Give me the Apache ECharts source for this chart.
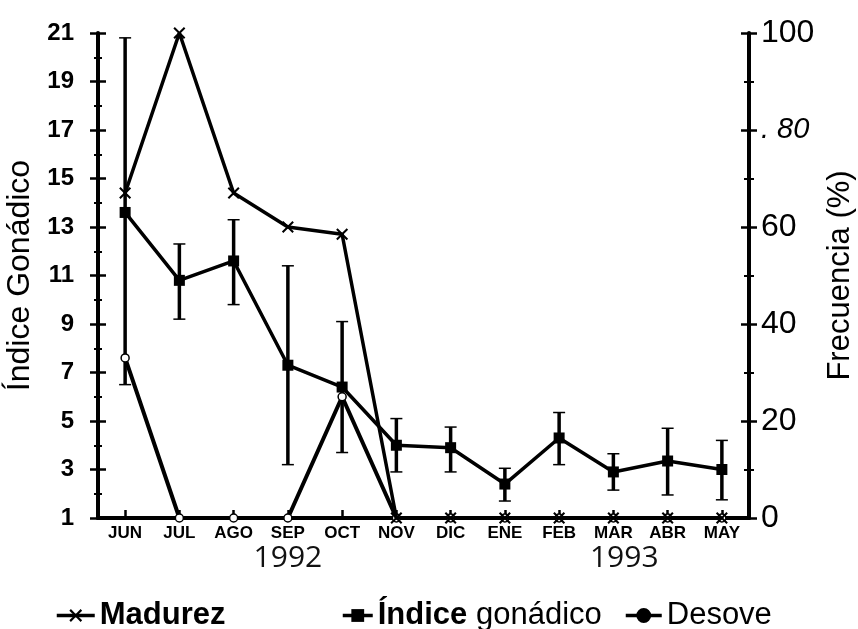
<!DOCTYPE html>
<html>
<head>
<meta charset="utf-8">
<script src="https://cdn.jsdelivr.net/npm/echarts@6/dist/echarts.min.js"></script>
<style>
html,body{margin:0;padding:0;background:#fff;}
#chart{width:858px;height:629px;}
</style>
</head>
<body>
<div id="chart"></div>
<script>
// ---- data ----
var months = ['JUN','JUL','AGO','SEP','OCT','NOV','DIC','ENE','FEB','MAR','ABR','MAY'];
var madurez = [67, 100, 67, 60, 58.5, 0, 0, 0, 0, 0, 0, 0];          // Frecuencia (%)
var desove  = [33, 0, 0, 0, 25, 0, 0, 0, 0, 0, 0, 0];               // Frecuencia (%)
var indiceGonadico = [13.6, 10.8, 11.6, 7.3, 6.4, 4.0, 3.9, 2.4, 4.3, 2.9, 3.35, 3.0];
var indiceLow  = [6.5, 9.2, 9.8, 3.2, 3.7, 2.9, 2.9, 1.7, 3.2, 2.15, 1.95, 1.75];
var indiceHigh = [20.8, 12.3, 13.3, 11.4, 9.1, 5.1, 4.75, 3.05, 5.35, 3.65, 4.7, 4.2];
var leftTicks = [1, 3, 5, 7, 9, 11, 13, 15, 17, 19, 21];
var rightTicks = [0, 20, 40, 60, 80, 100];
var years = [{label: '1992', from: 'SEP', to: 'SEP'}, {label: '1993', from: 'MAR', to: 'ABR'}];

var errData = months.map(function (m, i) { return [i, indiceLow[i], indiceHigh[i]]; });

var chart = echarts.init(document.getElementById('chart'));
var F = 'Liberation Sans, Arial, sans-serif';
var xMark = 'path://M0,1.2L1.2,0L5,3.8L8.8,0L10,1.2L6.2,5L10,8.8L8.8,10L5,6.2L1.2,10L0,8.8L3.8,5Z';

var option = {
  backgroundColor: '#fff',
  animation: false,
  grid: {left: 98, right: 109, top: 33, bottom: 111, containLabel: false, outerBoundsMode: 'none'},
  legend: [
    {left: 50, top: 595, itemWidth: 38, itemHeight: 16, itemGap: 0,
     lineStyle: {width: 3.5},
     data: ['Madurez'], textStyle: {fontFamily: F, fontSize: 31, fontWeight: 'bold', color: '#000'}},
    {left: 336, top: 595, itemWidth: 30, itemHeight: 16,
     lineStyle: {width: 3.5},
     data: ['Índice gonádico'],
     formatter: function () { return '{b|Índice} gonádico'; },
     textStyle: {fontFamily: F, fontSize: 31, color: '#000', rich: {b: {fontFamily: F, fontSize: 31, fontWeight: 'bold', color: '#000'}}}},
    {left: 619, top: 595, itemWidth: 36, itemHeight: 16,
     lineStyle: {width: 3.5},
     data: ['Desove'], itemStyle: {color: '#000'},
     textStyle: {fontFamily: F, fontSize: 31, color: '#000'}}
  ],
  xAxis: [
    {type: 'category', data: months, boundaryGap: true, position: 'bottom',
     axisLine: {lineStyle: {color: '#000', width: 4}},
     axisTick: {show: true, inside: true, alignWithLabel: true, length: 8, lineStyle: {color: '#000', width: 2.5}},
     axisLabel: {fontFamily: F, fontSize: 17, fontWeight: 'bold', color: '#000', margin: 7, interval: 0}},
    {type: 'category', data: months, position: 'top',
     axisLine: {lineStyle: {color: '#000', width: 3}}, axisTick: {show: false}, axisLabel: {show: false}}
  ],
  yAxis: [
    {type: 'value', min: 1, max: 21, interval: 2, position: 'left',
     name: 'Índice Gonádico', nameLocation: 'middle', nameGap: 58,
     nameTextStyle: {fontFamily: F, fontSize: 32, color: '#000'},
     axisLine: {show: true, lineStyle: {color: '#000', width: 4}},
     axisTick: {show: true, length: 8, lineStyle: {color: '#000', width: 2.5}},
     minorTick: {show: true, splitNumber: 2, length: 4, lineStyle: {color: '#000', width: 2}},
     axisLabel: {fontFamily: F, fontSize: 24, fontWeight: 'bold', color: '#000', margin: 24,
       formatter: function (v) { return leftTicks.indexOf(v) >= 0 ? String(v) : ''; }},
     splitLine: {show: false}},
    {type: 'value', min: 0, max: 100, interval: 20, position: 'right',
     name: 'Frecuencia (%)', nameLocation: 'middle', nameGap: 70,
     nameTextStyle: {fontFamily: F, fontSize: 31, color: '#000'},
     axisLine: {show: true, lineStyle: {color: '#000', width: 4}},
     axisTick: {show: true, length: 8, lineStyle: {color: '#000', width: 2.5}},
     minorTick: {show: true, splitNumber: 2, length: 5, lineStyle: {color: '#000', width: 2}},
     axisLabel: {fontFamily: F, fontSize: 32, color: '#000', margin: 12,
       formatter: function (v) { return v === 80 ? '{i|. 80}' : (rightTicks.indexOf(v) >= 0 ? String(v) : ''); },
       rich: {i: {fontFamily: F, fontSize: 29, fontStyle: 'italic', color: '#000'}}},
     splitLine: {show: false}},
    {type: 'value', min: 1, max: 21, interval: 2, position: 'left',
     axisLine: {show: false},
     axisTick: {show: true, inside: true, length: 8, lineStyle: {color: '#000', width: 2.5}},
     minorTick: {show: true, splitNumber: 2, length: 4, lineStyle: {color: '#000', width: 2}},
     axisLabel: {show: false}, splitLine: {show: false}},
    {type: 'value', min: 0, max: 100, interval: 20, position: 'right',
     axisLine: {show: false},
     axisTick: {show: true, inside: true, length: 8, lineStyle: {color: '#000', width: 2.5}},
     minorTick: {show: true, splitNumber: 2, length: 5, lineStyle: {color: '#000', width: 2}},
     axisLabel: {show: false}, splitLine: {show: false}}
  ],
  series: [
    {name: 'Madurez', type: 'line', yAxisIndex: 1, data: madurez, clip: false, z: 4,
     symbol: xMark, symbolSize: 12,
     lineStyle: {color: '#000', width: 3.5}, itemStyle: {color: '#000'}},
    {name: 'Índice gonádico', type: 'line', yAxisIndex: 0, data: indiceGonadico,
     symbol: 'rect', symbolSize: 11,
     lineStyle: {color: '#000', width: 3.5}, itemStyle: {color: '#000'}},
    {name: 'Desove', type: 'line', yAxisIndex: 1, data: desove,
     symbol: 'circle', symbolSize: 8,
     lineStyle: {color: '#000', width: 4}, itemStyle: {color: '#fff', borderColor: '#000', borderWidth: 1.5}},
    {name: 'err', type: 'custom', yAxisIndex: 0, data: errData, z: 3,
     renderItem: function (params, api) {
       var x = api.value(0);
       var lo = api.coord([x, api.value(1)]);
       var hi = api.coord([x, api.value(2)]);
       var w = 6;
       return {type: 'group', children: [
         {type: 'line', shape: {x1: lo[0], y1: lo[1], x2: hi[0], y2: hi[1]}, style: {stroke: '#000', lineWidth: 3.5}},
         {type: 'line', shape: {x1: lo[0]-w, y1: lo[1], x2: lo[0]+w, y2: lo[1]}, style: {stroke: '#000', lineWidth: 1.5}},
         {type: 'line', shape: {x1: hi[0]-w, y1: hi[1], x2: hi[0]+w, y2: hi[1]}, style: {stroke: '#000', lineWidth: 1.5}}
       ]};
     }}
  ]
};
chart.setOption(option);

// year labels below month labels, positioned through the category axis
var yearGraphics = years.map(function (y) {
  var a = chart.convertToPixel({xAxisIndex: 0}, y.from);
  var b = chart.convertToPixel({xAxisIndex: 0}, y.to);
  var px = a + (b - a) * 0.2;
  return {type: 'text', x: px, y: 543, style: {text: y.label, fontFamily: 'Open Sans, sans-serif', fontSize: 30, fill: '#111', align: 'center'}};
});
chart.setOption({graphic: yearGraphics});
</script>
</body>
</html>
